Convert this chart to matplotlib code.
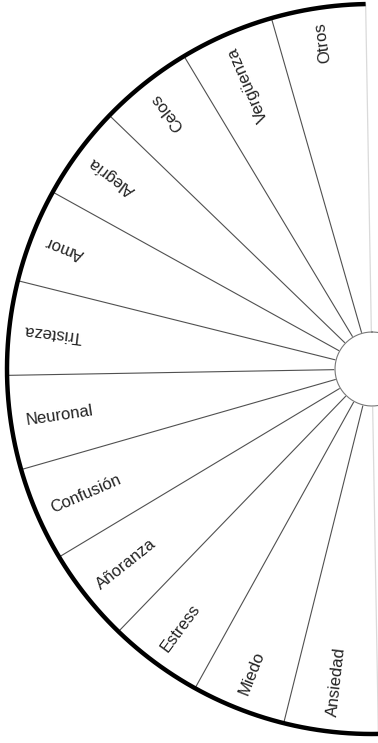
import matplotlib.pyplot as plt
import numpy as np

# categorias del semicirculo (de arriba hacia abajo)
labels = ["Otros", "Vergüenza", "Celos", "Alegría", "Amor", "Tristeza",
          "Neuronal", "Confusión", "Añoranza", "Estress", "Miedo", "Ansiedad"]
shares = [1, 1, 1, 1, 1, 1, 1, 1, 1, 1, 1, 1]

cx, cy = 372, 369      # centro (pixeles)
r_out, r_in = 365, 37
offset = 1.0           # giro de la imagen, grados


def pt(r, th):
    t = np.radians(th)
    return cx - r * np.sin(t), cy - r * np.cos(t)


fig = plt.figure(figsize=(3.78, 7.43), dpi=100)
ax = fig.add_axes([0, 0, 1, 1])
ax.set_xlim(0, 378)
ax.set_ylim(743, 0)
ax.axis("off")

cum = np.concatenate([[0], np.cumsum(shares)])
bounds = offset + 180.0 * cum / cum[-1]

# linea diametral tenue
x0, y0 = pt(r_out, bounds[0])
x1, y1 = pt(r_out, bounds[-1])
ax.plot([x0, x1], [y0, y1], color="#dadada", lw=0.9, zorder=1)

# lineas radiales
for b in bounds[1:-1]:
    xa, ya = pt(r_in, b)
    xb, yb = pt(r_out, b)
    ax.plot([xa, xb], [ya, yb], color="#505050", lw=0.8, zorder=2)

# arco exterior
th = np.linspace(bounds[0], bounds[-1] + 2, 300)
xs, ys = pt(r_out, th)
ax.plot(xs, ys, color="black", lw=3.2, solid_capstyle="butt", zorder=4)

# circulo central
th2 = np.linspace(0, 360, 200)
xs, ys = pt(r_in, th2)
ax.fill(xs, ys, color="white", zorder=3)
ax.plot(xs, ys, color="#777777", lw=0.8, zorder=3)

# etiquetas
for i, lab in enumerate(labels):
    mid = (bounds[i] + bounds[i + 1]) / 2
    x, y = pt(350, mid)
    if mid < 90:
        rot, ha = 90 + mid, "right"
    else:
        rot, ha = mid - 90, "left"
    ax.text(x, y, lab, rotation=rot, rotation_mode="anchor", ha=ha, va="center",
            fontsize=12, family="Liberation Sans", color="#222222", zorder=5)

plt.savefig("out.png", dpi=100, facecolor="white")
